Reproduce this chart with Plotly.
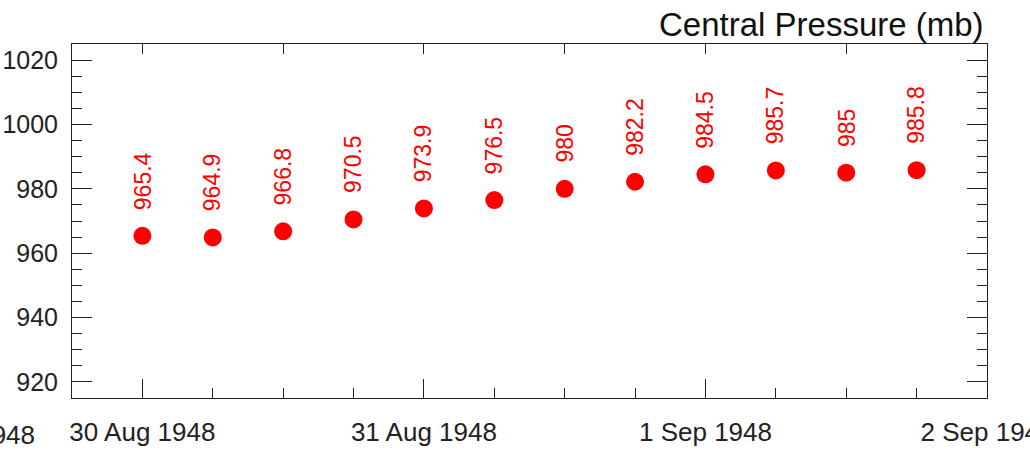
import plotly.graph_objects as go

times = ["1948-08-30 00:00", "1948-08-30 06:00", "1948-08-30 12:00", "1948-08-30 18:00",
         "1948-08-31 00:00", "1948-08-31 06:00", "1948-08-31 12:00", "1948-08-31 18:00",
         "1948-09-01 00:00", "1948-09-01 06:00", "1948-09-01 12:00", "1948-09-01 18:00"]
pressure = [965.4, 964.9, 966.8, 970.5, 973.9, 976.5, 980, 982.2, 984.5, 985.7, 985, 985.8]
labels = ["965.4", "964.9", "966.8", "970.5", "973.9", "976.5", "980", "982.2", "984.5", "985.7", "985", "985.8"]
x_range = ["1948-08-29 18:00", "1948-09-02 00:00"]
y_range = [915, 1025]
title = "Central Pressure (mb)"

FONT = "Liberation Sans"
TXT = "#222222"

fig = go.Figure()
fig.add_trace(go.Scatter(x=times, y=pressure, mode="markers",
                         marker=dict(size=18, color="#ff0000"),
                         showlegend=False, hoverinfo="x+y"))
# invisible trace for top axis
fig.add_trace(go.Scatter(x=x_range, y=y_range, xaxis="x2", mode="markers",
                         marker=dict(opacity=0), showlegend=False, hoverinfo="skip"))

for t, p, lab in zip(times, pressure, labels):
    fig.add_annotation(x=t, y=p, text=lab, textangle=-90, showarrow=False,
                       xanchor="center", yanchor="bottom", yshift=24,
                       font=dict(family=FONT, size=23, color="#ff0000"))

fig.add_annotation(xref="paper", yref="paper", x=1, y=1, xanchor="right", yanchor="bottom",
                   xshift=-1, yshift=-1, text=title, showarrow=False,
                   font=dict(family=FONT, size=33, color="#111111"))
fig.add_annotation(xref="paper", yref="paper", x=-0.038, y=0, xanchor="right", yanchor="top",
                   yshift=-20, text="29 Aug 1948", showarrow=False,
                   font=dict(family=FONT, size=26, color=TXT))

fig.update_layout(
    width=1030, height=456,
    margin=dict(l=72, r=43, t=44, b=58),
    paper_bgcolor="white", plot_bgcolor="white",
    font=dict(family=FONT, color=TXT),
    xaxis=dict(type="date", range=x_range, showgrid=False, zeroline=False,
               showline=True, linecolor="#222", linewidth=1, mirror=True,
               ticks="inside", ticklen=19, tickcolor="#222", tickwidth=1,
               dtick=86400000, tick0="1948-08-30", tickformat="%-d %b %Y",
               tickfont=dict(family=FONT, size=26, color=TXT),
               ticklabelstandoff=11, ticklabeloverflow="allow", automargin=False,
               minor=dict(ticks="inside", ticklen=10, dtick=6 * 3600000,
                          tick0="1948-08-30", tickcolor="#222", showgrid=False)),
    xaxis2=dict(type="date", range=x_range, overlaying="x", side="top",
                showgrid=False, zeroline=False, showline=False, automargin=False,
                ticks="inside", ticklen=10, tickcolor="#222",
                dtick=12 * 3600000, tick0="1948-08-30", showticklabels=False),
    yaxis=dict(range=y_range, showgrid=False, zeroline=False,
               showline=True, linecolor="#222", linewidth=1, mirror="ticks",
               ticks="inside", ticklen=20, tickcolor="#222",
               dtick=20, tick0=920, automargin=False,
               tickfont=dict(family=FONT, size=25, color=TXT),
               ticklabelstandoff=8, ticklabeloverflow="allow",
               minor=dict(ticks="inside", ticklen=10, dtick=5, tick0=915,
                          tickcolor="#222", showgrid=False)),
)

fig.write_html("out.html", config={"displayModeBar": False},
               post_script="document.body.style.margin='0';")
